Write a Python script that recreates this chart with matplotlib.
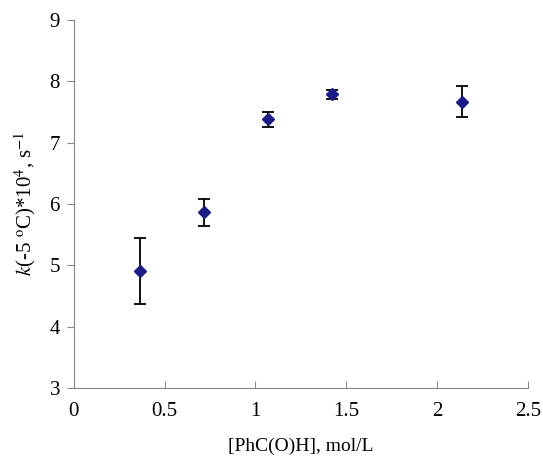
import numpy as np
import matplotlib
matplotlib.use("Agg")
import matplotlib.pyplot as plt

plt.rcParams['font.family'] = ['Liberation Serif', 'DejaVu Serif']
plt.rcParams['mathtext.fontset'] = 'stix'

conc = [0.365, 0.717, 1.07, 1.424, 2.138]
k_rate = [4.90, 5.87, 7.38, 7.79, 7.67]
err_lo = [0.53, 0.22, 0.13, 0.07, 0.25]
err_hi = [0.54, 0.21, 0.12, 0.07, 0.25]

fig = plt.figure(figsize=(5.43, 4.57), dpi=100)
ax = fig.add_axes([0.136, 0.151, 0.836, 0.805])

ax.errorbar(conc, k_rate, yerr=[err_lo, err_hi], fmt='D', color='#1c1c86',
            markersize=6.5, ecolor='black', elinewidth=1.3, capsize=4, capthick=1.3)

ax.set_xlim(0, 2.5)
ax.set_ylim(3, 9)
ax.set_xticks([0, 0.5, 1, 1.5, 2, 2.5])
ax.set_xticklabels(['0', '0.5', '1', '1.5', '2', '2.5'])
ax.set_yticks(range(3, 10))

for side in ['top', 'right']:
    ax.spines[side].set_visible(False)
for side in ['left', 'bottom']:
    ax.spines[side].set_color('#888888')
ax.tick_params(axis='x', direction='in', length=5, color='#888888', labelsize=15, pad=10)
ax.tick_params(axis='y', direction='out', length=5, color='#888888', labelsize=15, pad=5)

ax.set_xlabel('[PhC(O)H], mol/L', fontsize=14, labelpad=12)
ax.set_ylabel(r'$k$(-5 $^{\rm o}$C)*10$^{4}$, s$^{-1}$', fontsize=15, labelpad=8)

fig.savefig('out.png', dpi=100)
